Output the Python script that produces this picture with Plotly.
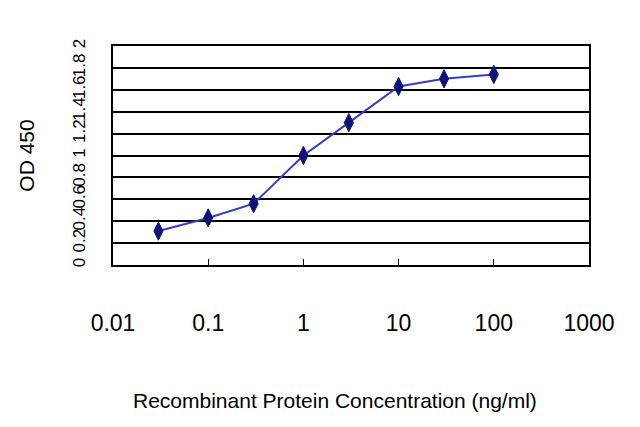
import plotly.graph_objects as go

conc = [0.03, 0.1, 0.3, 1, 3, 10, 30, 100]
od = [0.31, 0.43, 0.56, 1.0, 1.30, 1.63, 1.70, 1.74]
x_ticks = [0.01, 0.1, 1, 10, 100, 1000]
x_tick_labels = ["0.01", "0.1", "1", "10", "100", "1000"]
y_ticks = [0, 0.2, 0.4, 0.6, 0.8, 1, 1.2, 1.4, 1.6, 1.8, 2]
y_tick_labels = ["0", "0.2", "0.4", "0.6", "0.8", "1", "1.2", "1.4", "1.6", "1.8", "2"]
x_title = "Recombinant Protein Concentration (ng/ml)"
y_title = "OD 450"

fig = go.Figure()
fig.add_trace(go.Scatter(
    x=conc, y=od, mode="lines+markers",
    line=dict(color="#3a3ac8", width=2),
    marker=dict(symbol="diamond-tall", size=13, color="#10107a",
                line=dict(color="#10107a", width=1)),
    showlegend=False,
))

fig.add_annotation(
    text=x_title, xref="paper", yref="paper",
    x=0.4665, y=-0.617, xanchor="center", yanchor="middle",
    showarrow=False, font=dict(size=21),
)

fig.update_layout(
    width=640, height=427,
    margin=dict(l=105, r=59, t=38, b=170),
    paper_bgcolor="white", plot_bgcolor="white",
    font=dict(family="Liberation Sans, Arial, sans-serif", color="black"),
    xaxis=dict(
        type="log", range=[-2, 3],
        tickvals=x_ticks, ticktext=x_tick_labels,
        ticks="inside", ticklen=6, tickcolor="black", tickwidth=1,
        showgrid=False, zeroline=False,
        showline=True, linecolor="black", linewidth=2, mirror=True,
        tickfont=dict(size=23), ticklabelstandoff=36,
    ),
    yaxis=dict(
        range=[0, 2],
        tickvals=y_ticks, ticktext=y_tick_labels,
        tickangle=-90, ticks="",
        showgrid=True, gridcolor="black", gridwidth=2,
        zeroline=False,
        showline=True, linecolor="black", linewidth=2, mirror=True,
        tickfont=dict(size=17), ticklabelstandoff=19,
        title=dict(text=y_title, font=dict(size=21), standoff=30),
    ),
)

fig.write_html("out.html")
